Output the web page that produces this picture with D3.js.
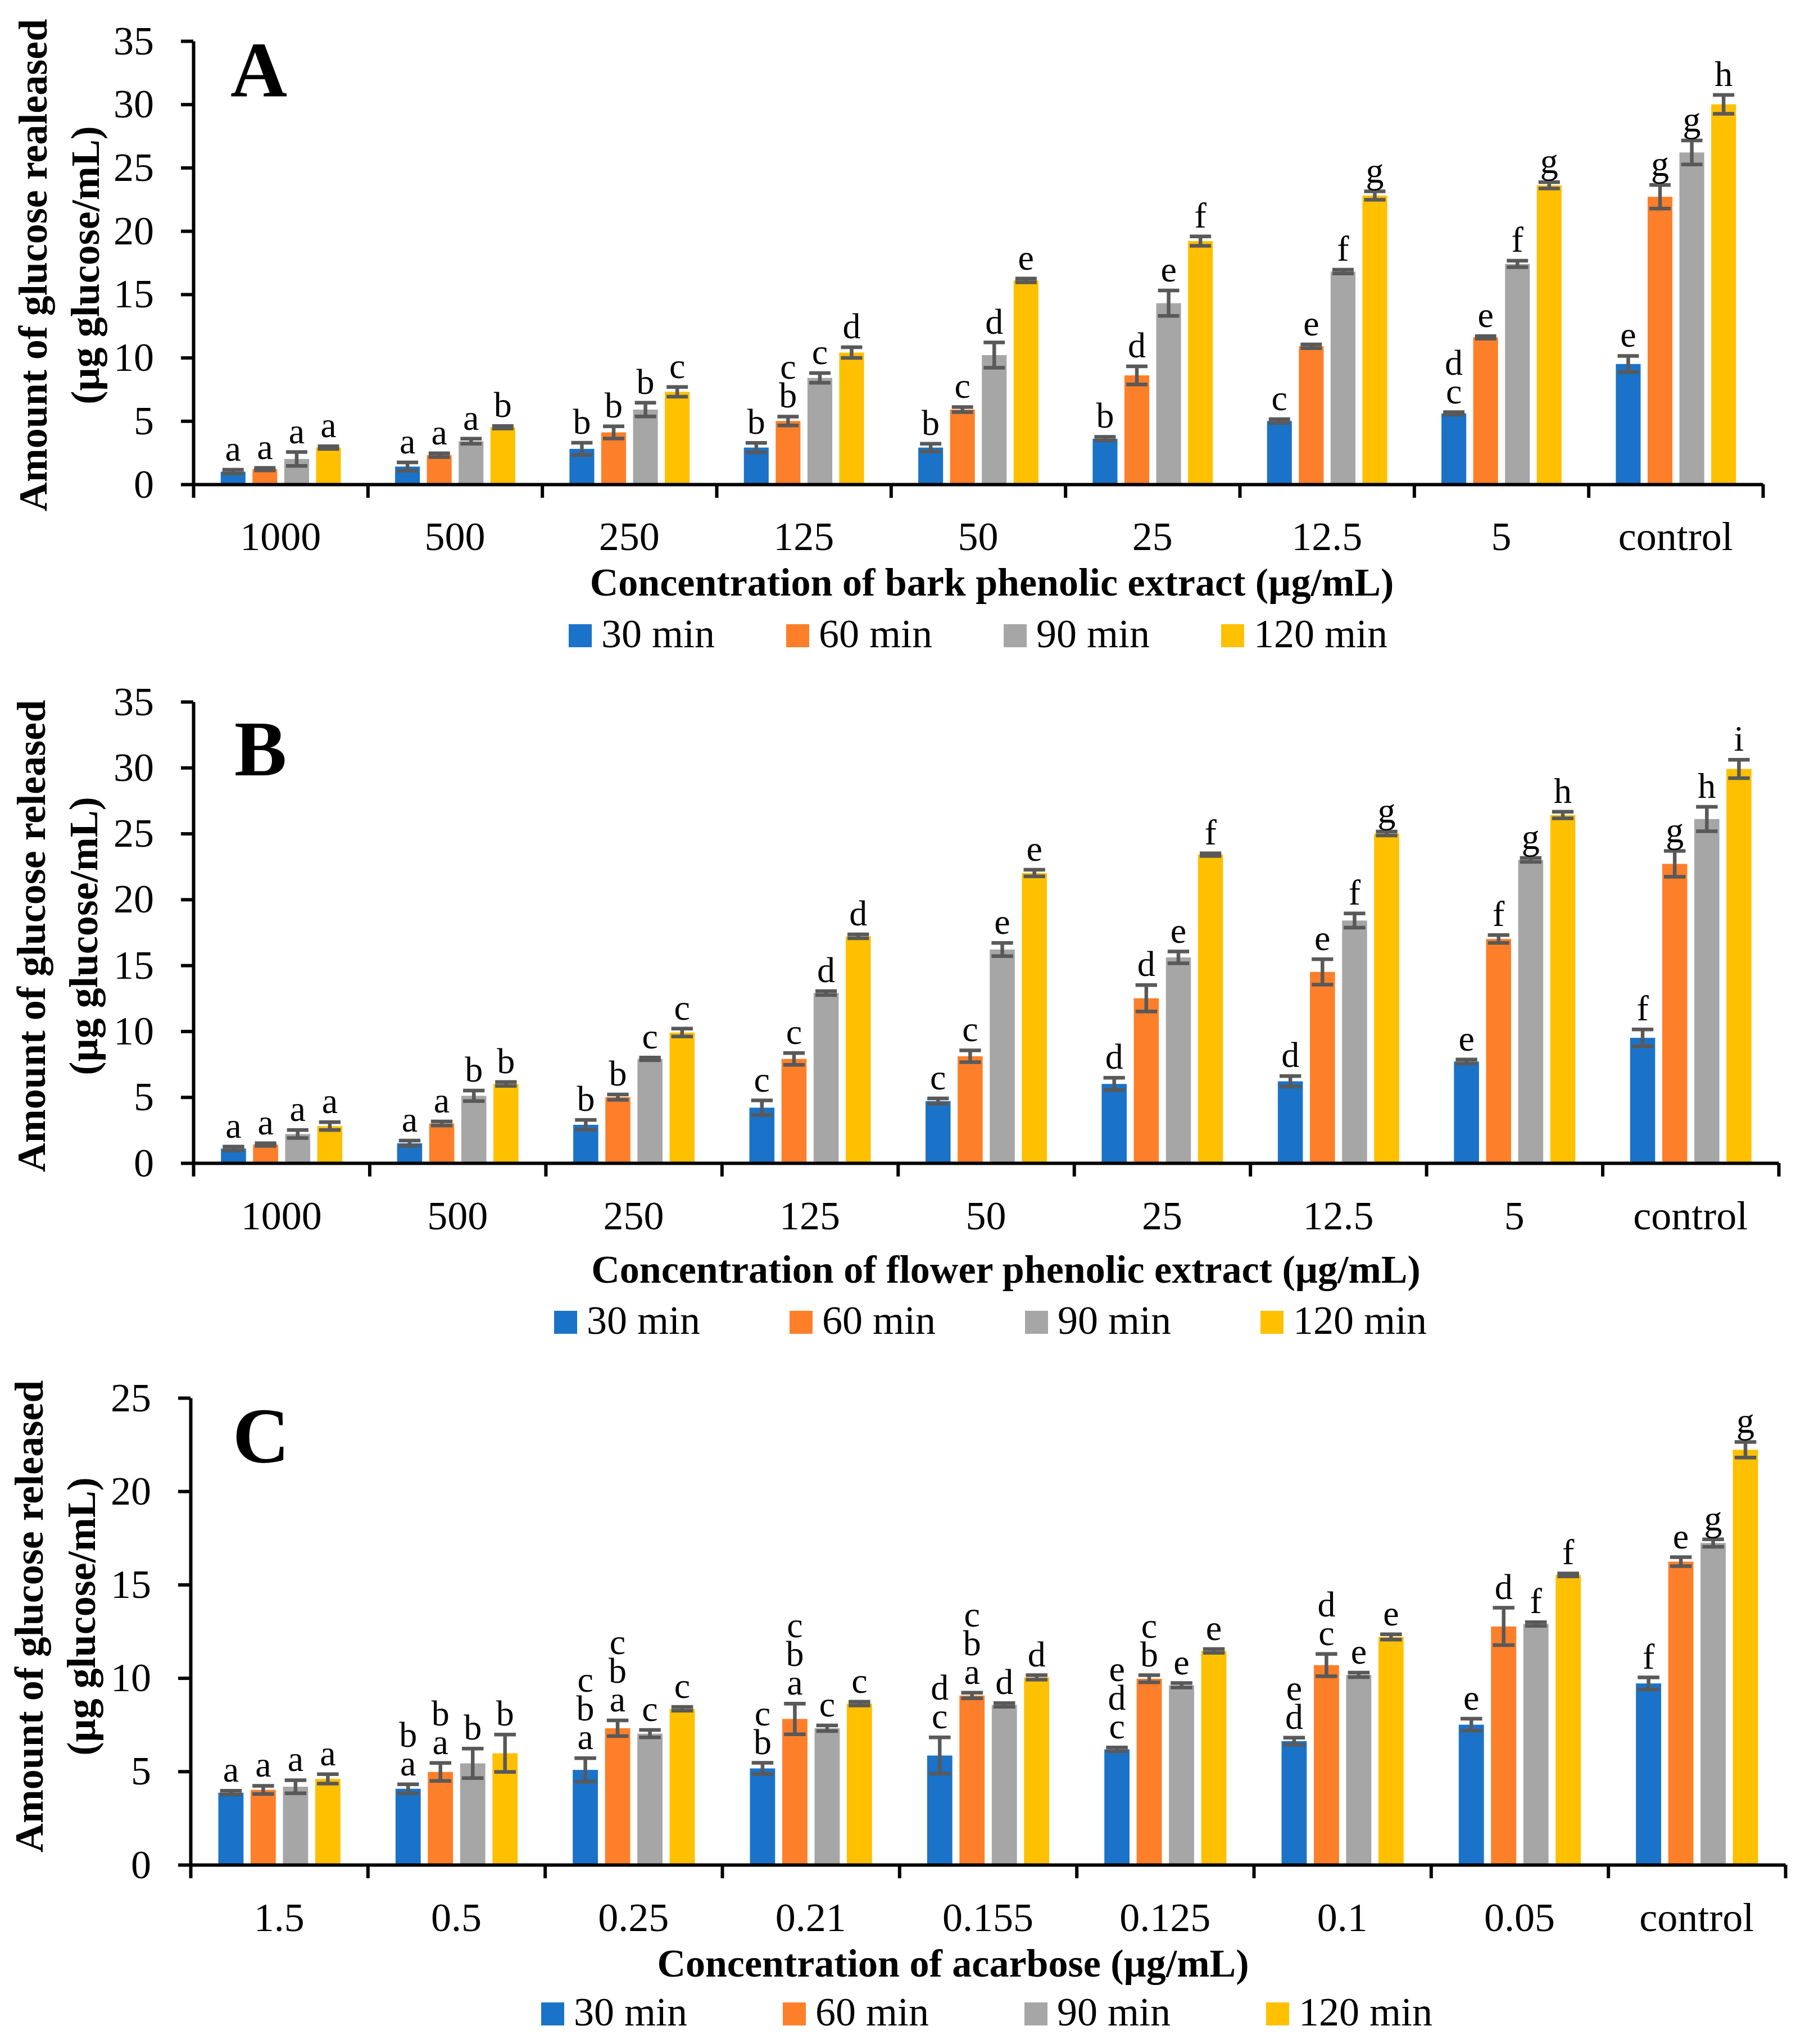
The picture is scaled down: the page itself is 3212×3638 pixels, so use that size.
<!DOCTYPE html>
<html>
<head>
<meta charset="utf-8">
<script src="https://cdn.jsdelivr.net/npm/d3@7"></script>
<style>
  body { margin: 0; background: #fff; }
  text { font-family: 'Liberation Serif', 'Times New Roman', serif; fill: #000; }
</style>
</head>
<body>
<script>
const series = ['30 min', '60 min', '90 min', '120 min']
const colors = ['#1a73c8', '#fe7f2a', '#a6a6a6', '#ffc000']

// panel A - bark extract
const catsA = ['1000', '500', '250', '125', '50', '25', '12.5', '5', 'control']
const meanA = [
  [1.0, 1.4, 2.8, 2.9, 2.9, 3.6, 5.0, 5.6, 9.5],
  [1.2, 2.3, 4.1, 5.0, 5.9, 8.6, 10.9, 11.6, 22.7],
  [2.0, 3.4, 5.9, 8.4, 10.2, 14.3, 16.8, 17.4, 26.2],
  [2.9, 4.5, 7.3, 10.4, 16.1, 19.2, 22.8, 23.6, 30.0]
]
const errA = [
  [0.15, 0.33, 0.48, 0.37, 0.3, 0.15, 0.15, 0.1, 0.64],
  [0.1, 0.15, 0.48, 0.35, 0.2, 0.72, 0.15, 0.1, 0.93],
  [0.55, 0.2, 0.54, 0.38, 1.0, 1.0, 0.15, 0.25, 0.95],
  [0.1, 0.1, 0.38, 0.42, 0.15, 0.37, 0.33, 0.25, 0.74]
]
const lettersA = [
  ['a', 'a', 'b', 'b', 'b', 'b', 'c', 'dc', 'e'],
  ['a', 'a', 'b', 'cb', 'c', 'd', 'e', 'e', 'g'],
  ['a', 'a', 'b', 'c', 'd', 'e', 'f', 'f', 'g'],
  ['a', 'b', 'c', 'd', 'e', 'f', 'g', 'g', 'h']
]

// panel B - flower extract
const catsB = ['1000', '500', '250', '125', '50', '25', '12.5', '5', 'control']
const meanB = [
  [1.1, 1.5, 2.9, 4.2, 4.7, 6.0, 6.2, 7.7, 9.5],
  [1.4, 3.0, 5.0, 7.9, 8.1, 12.5, 14.5, 17.0, 22.7],
  [2.2, 5.1, 7.9, 12.9, 16.2, 15.6, 18.4, 23.0, 26.1],
  [2.8, 6.0, 9.9, 17.2, 22.0, 23.4, 25.0, 26.4, 29.9]
]
const errB = [
  [0.15, 0.2, 0.37, 0.55, 0.2, 0.47, 0.4, 0.15, 0.64],
  [0.1, 0.15, 0.2, 0.45, 0.45, 1.0, 0.96, 0.3, 0.98],
  [0.3, 0.4, 0.1, 0.15, 0.5, 0.45, 0.54, 0.15, 0.93],
  [0.3, 0.15, 0.3, 0.15, 0.25, 0.1, 0.15, 0.25, 0.7]
]
const lettersB = [
  ['a', 'a', 'b', 'c', 'c', 'd', 'd', 'e', 'f'],
  ['a', 'a', 'b', 'c', 'c', 'd', 'e', 'f', 'g'],
  ['a', 'b', 'c', 'd', 'e', 'e', 'f', 'g', 'h'],
  ['a', 'b', 'c', 'd', 'e', 'f', 'g', 'h', 'i']
]

// panel C - acarbose
const catsC = ['1.5', '0.5', '0.25', '0.21', '0.155', '0.125', '0.1', '0.05', 'control']
const meanC = [
  [3.86, 4.07, 5.08, 5.16, 5.85, 6.18, 6.62, 7.5, 9.71],
  [4.01, 4.97, 7.31, 7.81, 9.06, 9.96, 10.69, 12.76, 16.23],
  [4.18, 5.43, 7.02, 7.31, 8.56, 9.61, 10.17, 12.89, 17.23],
  [4.6, 5.97, 8.35, 8.63, 10.03, 11.45, 12.2, 15.52, 22.22]
]
const errC = [
  [0.1, 0.24, 0.63, 0.3, 0.97, 0.1, 0.19, 0.32, 0.32],
  [0.22, 0.48, 0.42, 0.82, 0.15, 0.19, 0.6, 1.0, 0.24],
  [0.35, 0.79, 0.2, 0.15, 0.1, 0.12, 0.12, 0.1, 0.2],
  [0.25, 1.0, 0.1, 0.1, 0.12, 0.1, 0.14, 0.08, 0.42]
]
const lettersC = [
  ['a', 'ba', 'cba', 'cb', 'dc', 'edc', 'ed', 'e', 'f'],
  ['a', 'ba', 'cba', 'cba', 'cba', 'cb', 'dc', 'd', 'e'],
  ['a', 'b', 'c', 'c', 'd', 'e', 'e', 'f', 'g'],
  ['a', 'b', 'c', 'c', 'd', 'e', 'e', 'f', 'g']
]

const W = 3212
const H = 3638

const svg = d3.select('body').append('svg')
  .attr('width', W)
  .attr('height', H)
  .style('background', '#fff')

const drawPanel = p => {
  const g = svg.append('g')
  const n = p.cats.length

  const x0 = d3.scaleBand().domain(p.cats).range([p.left, p.right])
  const bw = x0.bandwidth()
  const x1 = d3.scaleBand().domain(series).range([0.157 * bw, 0.846 * bw]).paddingInner(0.22)
  const y = d3.scaleLinear().domain([0, p.yMax]).range([p.bottom, p.top])

  // bars
  const rows = []
  p.cats.forEach((c, i) => {
    series.forEach((s, si) => {
      rows.push({ c, s, si, v: p.values[si][i], e: p.errors[si][i], l: p.letters[si][i] })
    })
  })

  g.selectAll('.bar')
    .data(rows)
    .enter().append('rect')
      .attr('class', 'bar')
      .attr('x', d => x0(d.c) + x1(d.s))
      .attr('y', d => y(d.v))
      .attr('width', x1.bandwidth())
      .attr('height', d => y(0) - y(d.v))
      .attr('fill', d => colors[d.si])

  // error bars
  const capW = x1.bandwidth() * 0.43
  const eb = g.selectAll('.err')
    .data(rows)
    .enter().append('g')
      .attr('class', 'err')
      .attr('transform', d => 'translate(' + (x0(d.c) + x1(d.s) + x1.bandwidth() / 2) + ',0)')
      .attr('stroke', '#595959')
      .attr('stroke-width', 6.5)
  eb.append('line').attr('y1', d => y(d.v - d.e)).attr('y2', d => y(d.v + d.e))
  eb.append('line').attr('x1', -capW).attr('x2', capW).attr('y1', d => y(d.v + d.e)).attr('y2', d => y(d.v + d.e))
  eb.append('line').attr('x1', -capW).attr('x2', capW).attr('y1', d => y(d.v - d.e)).attr('y2', d => y(d.v - d.e))

  // significance letters, stacked top to bottom
  rows.forEach(d => {
    const chars = d.l.split('')
    chars.forEach((ch, k) => {
      g.append('text')
        .attr('x', x0(d.c) + x1(d.s) + x1.bandwidth() / 2)
        .attr('y', y(d.v + d.e) - 16 - (chars.length - 1 - k) * 51)
        .attr('text-anchor', 'middle')
        .attr('font-size', 64)
        .text(ch)
    })
  })

  // y axis
  const yAxis = g.append('g')
    .attr('transform', 'translate(' + p.left + ',0)')
    .call(d3.axisLeft(y).ticks(p.yMax / 5).tickSize(22).tickSizeOuter(0).tickPadding(48))
    .attr('font-size', 72)
  yAxis.selectAll('line, path').attr('stroke', '#000').attr('stroke-width', 6)

  // x axis: ticks at category boundaries, labels at centres
  const xb = d3.scaleLinear().domain([0, n]).range([p.left, p.right])
  const xAxis = g.append('g')
    .attr('transform', 'translate(0,' + p.bottom + ')')
    .call(d3.axisBottom(xb).tickValues(d3.range(n + 1)).tickSize(24).tickSizeOuter(0).tickFormat(''))
  xAxis.selectAll('line, path').attr('stroke', '#000').attr('stroke-width', 6)

  const xLabels = g.append('g')
    .attr('transform', 'translate(0,' + p.bottom + ')')
    .call(d3.axisBottom(x0).tickSize(0).tickPadding(p.tickPad))
    .attr('font-size', 72)
  xLabels.select('.domain').remove()

  // titles
  g.append('text')
    .attr('x', p.xTitleX)
    .attr('y', p.xTitleY)
    .attr('text-anchor', 'middle')
    .attr('font-weight', 'bold')
    .attr('font-size', 70)
    .text(p.xTitle)

  g.append('text')
    .attr('transform', 'translate(' + p.yTitleX + ',' + p.yTitleCY + ') rotate(-90)')
    .attr('text-anchor', 'middle')
    .attr('font-weight', 'bold')
    .attr('font-size', 72)
    .text(p.yTitle1)

  g.append('text')
    .attr('transform', 'translate(' + (p.yTitleX + 93) + ',' + p.yTitleCY + ') rotate(-90)')
    .attr('text-anchor', 'middle')
    .attr('font-weight', 'bold')
    .attr('font-size', 72)
    .text('(µg glucose/mL)')

  g.append('text')
    .attr('x', p.labelX)
    .attr('y', p.labelY)
    .attr('font-weight', 'bold')
    .attr('font-size', 140)
    .text(p.label)

  // legend
  const leg = g.selectAll('.leg')
    .data(series)
    .enter().append('g')
      .attr('class', 'leg')
      .attr('transform', (d, i) => 'translate(' + (p.legendX + i * p.legendStep) + ',' + p.legendY + ')')
  leg.append('rect').attr('width', 41).attr('height', 41).attr('fill', (d, i) => colors[i])
  leg.append('text').attr('x', 58).attr('y', 41).attr('font-size', 72).text(d => d)
}

drawPanel({
  cats: catsA, values: meanA, errors: errA, letters: lettersA,
  label: 'A', labelX: 410, labelY: 172,
  left: 344, right: 3137, top: 73, bottom: 862, yMax: 35, tickPad: 66,
  xTitle: 'Concentration of bark phenolic extract (µg/mL)', xTitleX: 1765, xTitleY: 1060,
  yTitle1: 'Amount of glucose realeased', yTitleX: 83, yTitleCY: 472,
  legendX: 1012, legendStep: 387, legendY: 1111
})

drawPanel({
  cats: catsB, values: meanB, errors: errB, letters: lettersB,
  label: 'B', labelX: 417, labelY: 1380,
  left: 344, right: 3165, top: 1249, bottom: 2070, yMax: 35, tickPad: 67,
  xTitle: 'Concentration of flower phenolic extract (µg/mL)', xTitleX: 1790, xTitleY: 2283,
  yTitle1: 'Amount of glucose released', yTitleX: 80, yTitleCY: 1666,
  legendX: 986, legendStep: 419, legendY: 2333
})

drawPanel({
  cats: catsC, values: meanC, errors: errC, letters: lettersC,
  label: 'C', labelX: 414, labelY: 2603,
  left: 339, right: 3177, top: 2488, bottom: 3319, yMax: 25, tickPad: 67,
  xTitle: 'Concentration of acarbose (µg/mL)', xTitleX: 1696, xTitleY: 3518,
  yTitle1: 'Amount of glucose released', yTitleX: 76, yTitleCY: 2877,
  legendX: 963, legendStep: 430, legendY: 3564
})
</script>
</body>
</html>
